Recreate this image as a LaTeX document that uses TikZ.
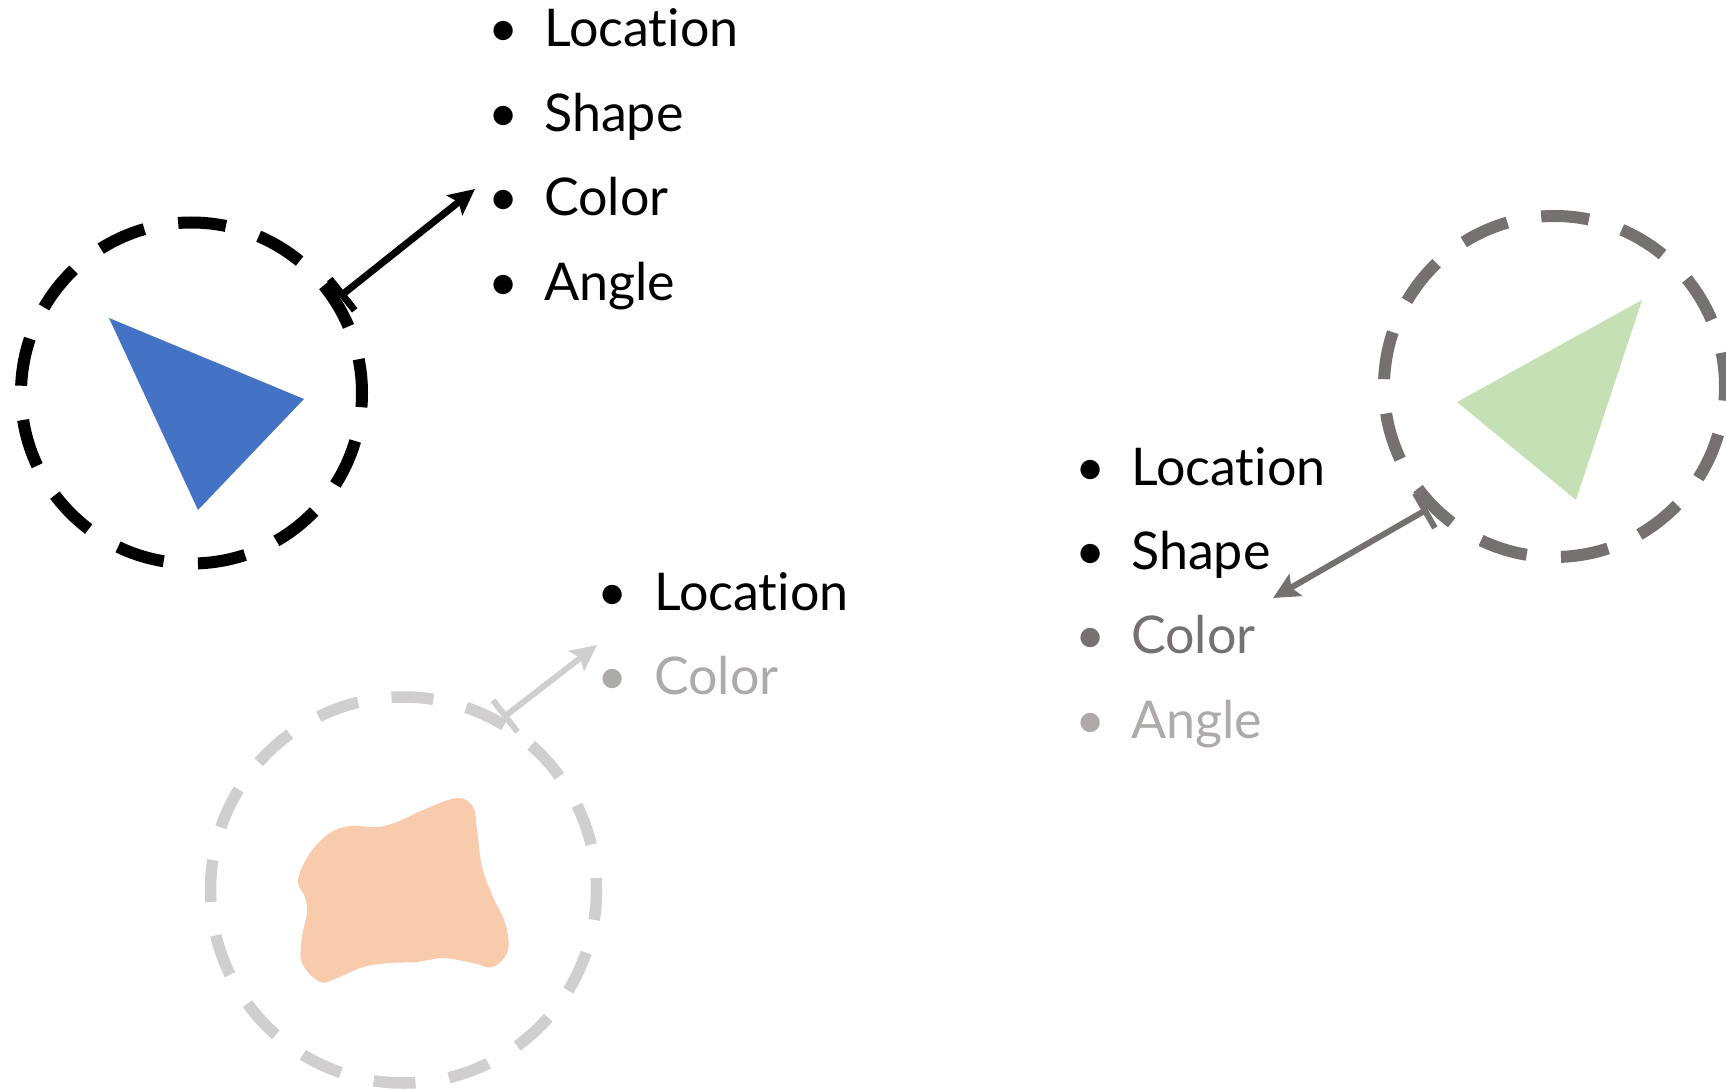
\documentclass[tikz,border=0pt]{standalone}
\usepackage{fontspec}
\setmainfont{Lato}[Ligatures={NoCommon,NoContextual}]
\usetikzlibrary{arrows.meta}
\definecolor{triblue}{HTML}{4472C4}
\definecolor{trigreen}{HTML}{C5E0B4}
\definecolor{blob}{HTML}{F8CBAD}
\definecolor{darkgr}{HTML}{767171}
\definecolor{lightgr}{HTML}{D0CECE}
\definecolor{textgr}{HTML}{AEAAAA}
\begin{document}
\begin{tikzpicture}[x=1pt,y=-1pt,
  ringbig/.style={circle, draw, inner sep=0pt, minimum size=341pt, line width=12pt,
    dash pattern=on 48pt off 34.4pt, dash phase=14pt},
  ringsmall/.style={circle, draw, inner sep=0pt, minimum size=386pt, line width=11.5pt,
    dash pattern=on 42pt off 33.8pt, dash phase=30pt},
  link/.style={line width=7pt, {Bar[width=40pt]}-{Stealth[length=26pt,width=25pt,inset=5pt]}},
  item/.style={anchor=base west, inner sep=0pt, font=\fontsize{52}{60}\selectfont},
  bul/.style={anchor=base, inner sep=0pt, font=\fontsize{52}{60}\selectfont},
]
\useasboundingbox (0,0) rectangle (1726,1091);

% circles
\node[ringbig, draw=black] (c1) at (191.5,393) {};
\node[ringbig, draw=darkgr] (c2) at (1554.5,386.5) {};
\node[ringsmall, draw=lightgr] (c3) at (403.5,890) {};

% shapes
\fill[triblue] (109,318) -- (304,399) -- (198,510) -- cycle;
\fill[trigreen] (1642,300) -- (1457,402) -- (1576,500) -- cycle;
\fill[blob] plot[smooth cycle, tension=0.6] coordinates {
  (298,880) (310,853) (330,833) (350,826) (377,827) (397,822) (423,810)
  (457,798) (473,807) (477,830) (482,867) (493,897) (505,923) (508,950)
  (493,967) (473,963) (443,958) (417,962) (390,963) (363,967) (337,978)
  (320,982) (302,963) (302,937) (307,913) (305,897)};

% lists
\node[bul] (ab1) at (504,47) {•};
\node[bul] (ab2) at (504,131.4) {•};
\node[bul] (ab3) at (504,215.8) {•};
\node[bul] (ab4) at (504,300.2) {•};
\node[item] (a1) at (544,47)    {Location};
\node[item] (a2) at (544,131.4) {Shape};
\node[item] (a3) at (544,215.8) {Color};
\node[item] (a4) at (544,300.2) {Angle};

\node[bul] (bb1) at (613,610) {•};
\node[bul, text=textgr] (bb2) at (613,694.4) {•};
\node[item] (b1) at (654,610)   {Location};
\node[item, text=textgr] (b2) at (654,694.4) {Color};

\node[bul] (rb1) at (1091,485) {•};
\node[bul] (rb2) at (1091,569.4) {•};
\node[bul, text=darkgr] (rb3) at (1091,653.8) {•};
\node[bul, text=textgr] (rb4) at (1091,738.2) {•};
\node[item] (r1) at (1131,485)   {Location};
\node[item] (r2) at (1131,569.4) {Shape};
\node[item, text=darkgr] (r3) at (1131,653.8) {Color};
\node[item, text=textgr] (r4) at (1131,738.2) {Angle};

% connectors
\coordinate (t1) at (475,189);
\coordinate (t2) at (1273,598);
\coordinate (t3) at (597,645);
\draw[link, black] (c1.33) -- (t1);
\draw[link, darkgr, line width=6pt] (c2.224.8) -- (t2);
\draw[link, lightgr, line width=6pt] (c3.60.7) -- (t3);
\end{tikzpicture}
\end{document}
